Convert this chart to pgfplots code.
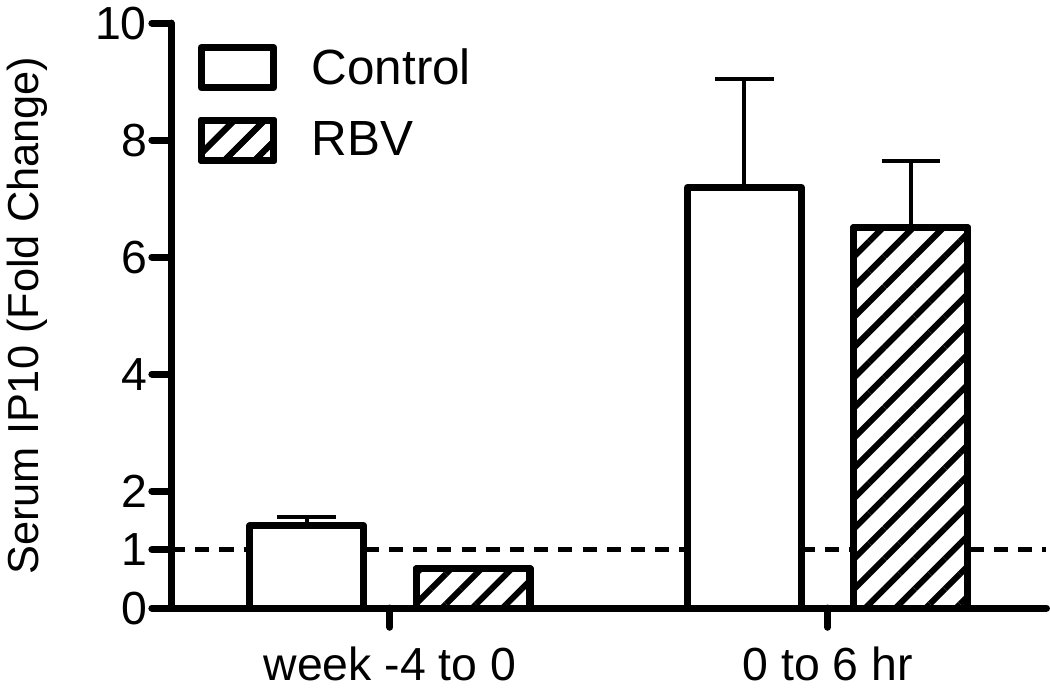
\documentclass[border=0pt]{standalone}
\usepackage{fontspec}
\setmainfont{Liberation Sans}
\usepackage{pgfplots}
\pgfplotsset{compat=1.18}
\usetikzlibrary{patterns.meta}
\begin{document}
\begin{tikzpicture}
\begin{axis}[
  scale only axis, width=434bp, height=290bp,
  xmin=-0.5, xmax=1.5, ymin=0, ymax=10,
  axis x line*=bottom, axis y line*=left,
  axis line style={line width=3.5bp, line cap=round},
  axis on top=true,
  xtick={0,1}, xticklabels={week -4 to 0, 0 to 6 hr},
  ytick={0,1,2,4,6,8,10},
  tick style={line width=3.5bp, black, line cap=round},
  major tick length=9.5bp,
  tick align=outside,
  /pgf/number format/assume math mode=true,
  ticklabel style={font=\fontsize{23bp}{27bp}\selectfont},
  xticklabel style={yshift=-6bp},
  yticklabel style={xshift=1bp},
  ylabel={Serum IP10 (Fold Change)},
  ylabel style={font=\fontsize{21.5bp}{26bp}\selectfont},
  ylabel shift=17bp,
  legend style={at={(rel axis cs:0.03,0.965)}, anchor=north west, draw=none, fill=none,
    font=\fontsize{24.5bp}{30bp}\selectfont, row sep=12.5bp, inner sep=0pt,
    /tikz/every odd column/.style={column sep=15bp}},
  legend cell align=left,
]
\addplot[forget plot, line width=2.5bp, dash pattern=on 7bp off 5bp] coordinates {(-0.5,1) (1.5,1)};
\addplot[ybar, bar width=0.26, bar shift=0pt, fill=white, draw=black, line width=3.5bp, line join=round,
  legend image code/.code={\draw[fill=white, draw=black, line width=3.5bp] (0bp,-10bp) rectangle (36bp,10bp);},
  error bars/.cd, y dir=plus, y explicit,
  error bar style={line width=2bp, solid},
  error mark options={rotate=90, line width=2bp, mark size=14.5bp}]
  coordinates {(-0.19,1.41) +- (0,0.14) (0.81,7.19) +- (0,1.86)};
\addlegendentry{Control}
\addplot[ybar, bar width=0.26, bar shift=0pt, draw=black, line width=3.5bp, line join=round,
  postaction={pattern={Lines[angle=45, distance=10.6bp, line width=3bp]}},
  fill=white,
  legend image code/.code={\draw[fill=white, draw=black, line width=3.5bp, postaction={pattern={Lines[angle=45, distance=10.6bp, line width=3bp]}}] (0bp,-10bp) rectangle (36bp,10bp);},
  error bars/.cd, y dir=plus, y explicit,
  error bar style={line width=2bp, solid},
  error mark options={rotate=90, line width=2bp, mark size=14.5bp}]
  coordinates {(0.19,0.67) +- (0,0.04) (1.19,6.5) +- (0,1.14)};
\addlegendentry{RBV}
\end{axis}
\end{tikzpicture}
\end{document}
